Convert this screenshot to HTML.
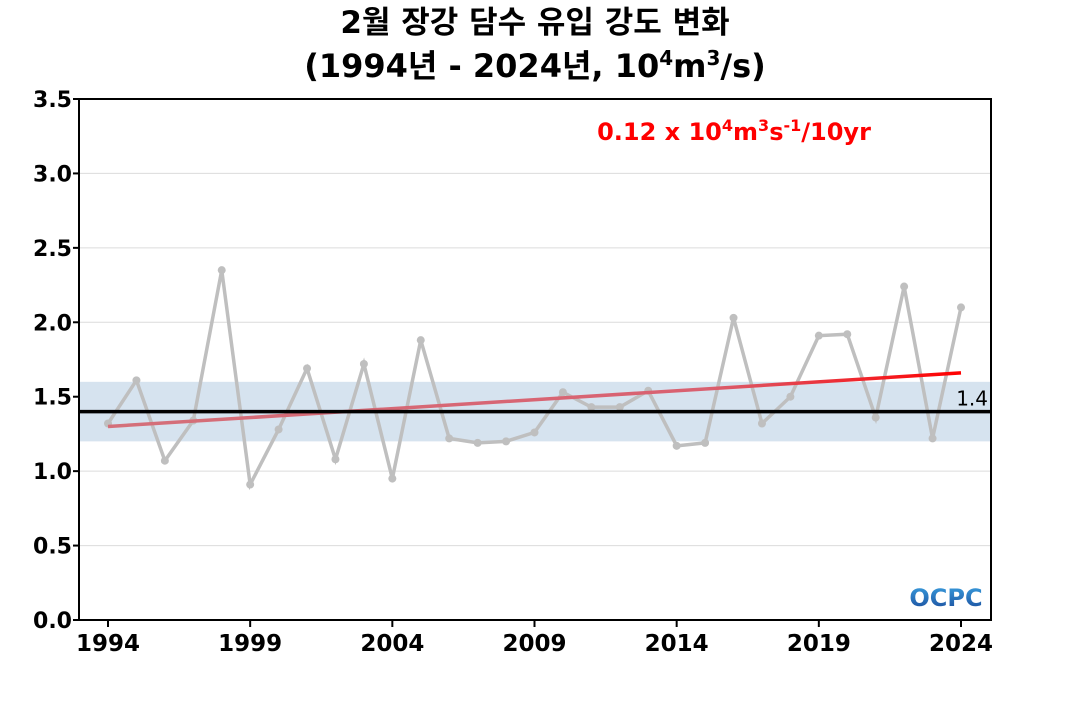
<!DOCTYPE html>
<html><head><meta charset="utf-8"><style>
body{margin:0;background:#fff;}
svg text{font-family:"DejaVu Sans","Liberation Sans","Noto Sans CJK KR",sans-serif;}
</style></head><body>
<svg id="chart" width="1070" height="700" xmlns="http://www.w3.org/2000/svg">
<defs><linearGradient id="tg" x1="0" x2="1" y1="0" y2="0"><stop offset="0" stop-color="#d4707a"/><stop offset="0.7" stop-color="#d96070"/><stop offset="1" stop-color="#ff0000"/></linearGradient>
<linearGradient id="lg" x1="0" x2="0" y1="0" y2="1"><stop offset="0" stop-color="#3aa0e0"/><stop offset="1" stop-color="#1a4a9a"/></linearGradient></defs>
<text x="535" y="33" text-anchor="middle" font-size="31" font-weight="bold" font-family="'Noto Sans CJK KR',sans-serif">2월 장강 담수 유입 강도 변화</text>
<text x="535" y="77" text-anchor="middle" font-size="32" font-weight="bold">(1994년 - 2024년, 10<tspan dy="-12" font-size="20">4</tspan><tspan dy="12">m</tspan><tspan dy="-12" font-size="20">3</tspan><tspan dy="12">/s)</tspan></text>
<g id="plot"></g>
</svg>
<script>
const years=[1994,1995,1996,1997,1998,1999,2000,2001,2002,2003,2004,2005,2006,2007,2008,2009,2010,2011,2012,2013,2014,2015,2016,2017,2018,2019,2020,2021,2022,2023,2024];
const values=[1.32,1.61,1.07,1.34,2.35,0.91,1.28,1.69,1.08,1.72,0.95,1.88,1.22,1.19,1.20,1.26,1.53,1.43,1.43,1.54,1.17,1.19,2.03,1.32,1.50,1.91,1.92,1.36,2.24,1.22,2.10];
const yTicks=[0,0.5,1,1.5,2,2.5,3,3.5];
const xTicks=[1994,1999,2004,2009,2014,2019,2024];
const trend=[1.30,1.66];
const meanVal=1.4, bandLo=1.2, bandHi=1.6;
const L=79,R=991,T=99,B=620;
const X=y=>108+(y-1994)*(961-108)/30;
const Y=v=>B-v*(B-T)/3.5;
const g=document.getElementById('plot');
const NS='http://www.w3.org/2000/svg';
function mk(t,a,p){const e=document.createElementNS(NS,t);for(const k in a)e.setAttribute(k,a[k]);(p||g).appendChild(e);return e;}
yTicks.forEach(v=>{
 const l=mk('line',{x1:L,x2:R,y1:Y(v),y2:Y(v),stroke:'#dcdcdc','stroke-width':1});
 
 
 const t=mk('text',{x:L-7,y:Y(v)+8,'text-anchor':'end','font-size':22,'font-weight':'bold'});t.textContent=v.toFixed(1);
 
 
 mk('line',{x1:L-6,x2:L,y1:Y(v),y2:Y(v),stroke:'#000','stroke-width':2});
});
const band=mk('rect',{x:L,y:Y(bandHi),width:R-L,height:Y(bandLo)-Y(bandHi),fill:'#d6e3ef'});


xTicks.forEach(y=>{
 mk('line',{x1:X(y),x2:X(y),y1:B,y2:B+7,stroke:'#000','stroke-width':2});
 const t=mk('text',{x:X(y),y:B+31,'text-anchor':'middle','font-size':23,'font-weight':'bold'});t.textContent=y;
 
 
});
const ln=mk('polyline',{points:years.map((y,i)=>X(y)+','+Y(values[i])).join(' '),fill:'none',stroke:'#bfbfbf','stroke-width':3.5});


years.forEach((y,i)=>{const c=mk('circle',{cx:X(y),cy:Y(values[i]),r:4,fill:'#bfbfbf'});
 
 });
const tl=mk('line',{x1:X(1994),y1:Y(trend[0]),x2:X(2024),y2:Y(trend[1]),stroke:'url(#tg)','stroke-width':3.5});


const ml=mk('line',{x1:L,x2:R,y1:Y(meanVal),y2:Y(meanVal),stroke:'#000','stroke-width':3.5});


const mt=mk('text',{x:R-3,y:Y(meanVal)-6,'text-anchor':'end','font-size':20});mt.textContent=meanVal.toFixed(1);


const fr=mk('rect',{x:L,y:T,width:R-L,height:B-T,fill:'none',stroke:'#000','stroke-width':2});


const tt=mk('text',{x:734,y:140,'text-anchor':'middle','font-size':24,'font-weight':'bold',fill:'#ff0000'});
tt.innerHTML='0.12 x 10<tspan dy="-9" font-size="16">4</tspan><tspan dy="9">m</tspan><tspan dy="-9" font-size="16">3</tspan><tspan dy="9">s</tspan><tspan dy="-9" font-size="16">-1</tspan><tspan dy="9">/10yr</tspan>';


const lo=mk('text',{x:946,y:606,'text-anchor':'middle','font-size':24,'font-weight':'bold',fill:'url(#lg)'});lo.textContent='OCPC';


</script>
</body></html>
